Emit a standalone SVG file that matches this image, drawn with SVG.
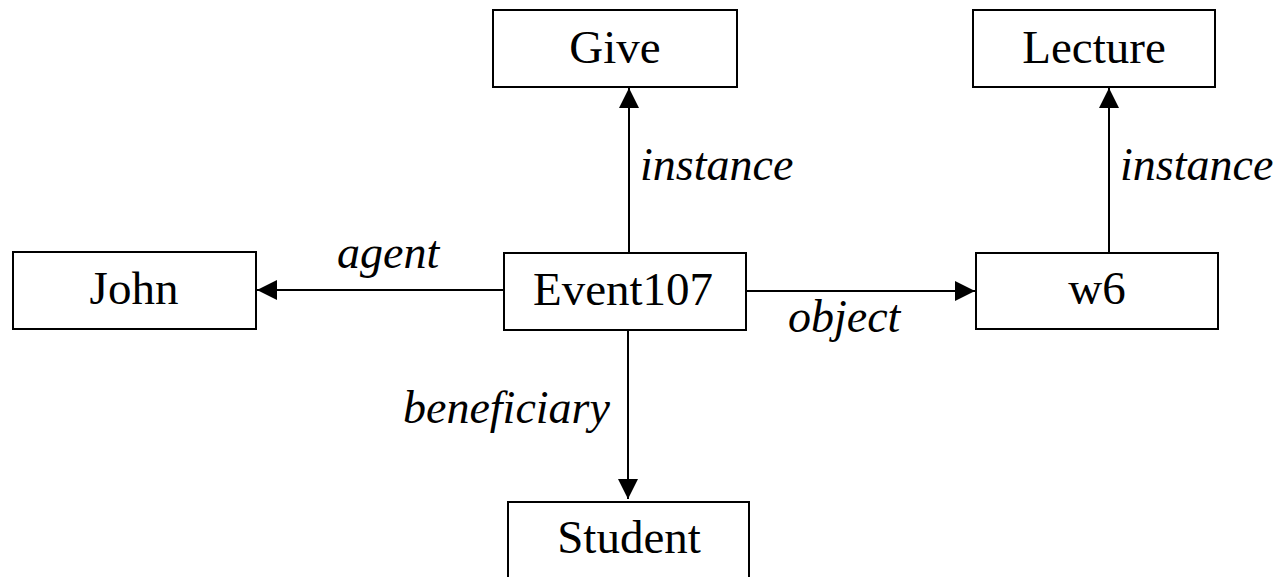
<svg xmlns="http://www.w3.org/2000/svg" width="1281" height="577" viewBox="0 0 1281 577">
<style>
.box{fill:#fff;stroke:#000;stroke-width:2}
.t{font-family:"Liberation Serif","Times New Roman",serif;font-size:47px;fill:#000;text-anchor:middle}
.l{font-family:"Liberation Serif","Times New Roman",serif;font-size:46px;font-style:italic;fill:#000}
.c{stroke:#000;stroke-width:2;fill:none}
</style>
<defs>
<marker id="ah" markerWidth="22" markerHeight="22" refX="20" refY="10" orient="auto" markerUnits="userSpaceOnUse">
<path d="M0,0 L20,10 L0,20 Z" fill="#000"/>
</marker>
</defs>
<g id="connectors">
<line class="c" x1="629" y1="253" x2="629" y2="88" marker-end="url(#ah)"/>
<line class="c" x1="1109" y1="253" x2="1109" y2="88" marker-end="url(#ah)"/>
<line class="c" x1="504" y1="290" x2="257" y2="290" marker-end="url(#ah)"/>
<line class="c" x1="746" y1="291" x2="975" y2="291" marker-end="url(#ah)"/>
<line class="c" x1="628" y1="330" x2="628" y2="499" marker-end="url(#ah)"/>
<text class="l" x="640" y="180">instance</text>
<text class="l" x="1120" y="180">instance</text>
<text class="l" x="337" y="268">agent</text>
<text class="l" x="788" y="332">object</text>
<text class="l" x="403" y="423">beneficiary</text>
</g>
<g id="give"><rect class="box" x="493" y="10" width="244" height="77"/><text class="t" x="615" y="63">Give</text></g>
<g id="lecture"><rect class="box" x="973" y="10" width="242" height="77"/><text class="t" x="1094" y="63">Lecture</text></g>
<g id="john"><rect class="box" x="13" y="252" width="243" height="77"/><text class="t" x="134" y="304">John</text></g>
<g id="event107"><rect class="box" x="504" y="253" width="242" height="77"/><text class="t" x="623" y="305">Event107</text></g>
<g id="w6"><rect class="box" x="976" y="253" width="242" height="76"/><text class="t" x="1097" y="304">w6</text></g>
<g id="student"><rect class="box" x="508" y="502" width="241" height="90"/><text class="t" x="629" y="553">Student</text></g>
</svg>
